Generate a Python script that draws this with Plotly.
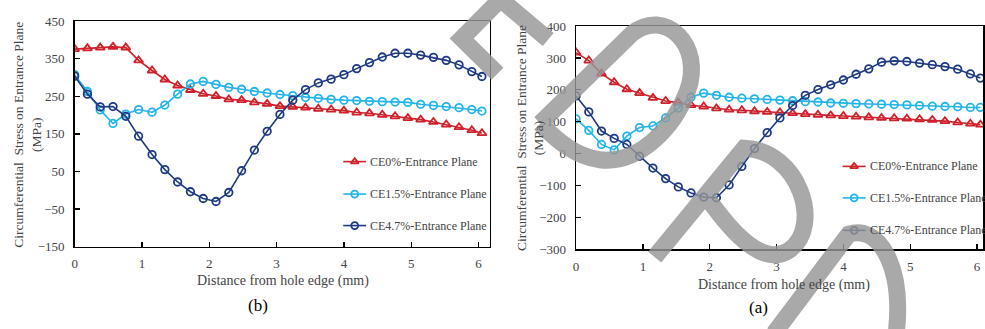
import plotly.graph_objects as go

# ---------------- data ----------------
x_mm = [0.00, 0.19, 0.38, 0.57, 0.76, 0.95, 1.15, 1.34, 1.53, 1.72, 1.91,
        2.10, 2.29, 2.48, 2.67, 2.86, 3.05, 3.24, 3.43, 3.62, 3.81, 4.00,
        4.19, 4.38, 4.57, 4.76, 4.95, 5.14, 5.33, 5.52, 5.71, 5.90, 6.05]

# panel (b) - left
b_ce0 = [376, 378, 380, 382, 380, 346, 319, 295, 279, 267, 257, 251, 242, 240,
         234, 230, 224, 222, 220, 217, 215, 212, 207, 205, 201, 197, 192, 188,
         182, 175, 168, 160, 152]
b_ce15 = [308, 263, 214, 178, 203, 215, 208, 227, 256, 283, 290, 282, 274, 269,
          263, 259, 255, 252, 247, 245, 242, 240, 239, 237, 236, 235, 234, 229,
          226, 223, 220, 215, 211]
b_ce47 = [304, 256, 222, 223, 197, 144, 95, 55, 22, -4, -22, -30, -6, 52, 107,
          157, 202, 240, 268, 286, 296, 308, 324, 340, 355, 365, 365, 360, 354,
          346, 334, 316, 303]

# panel (a) - right
a_ce0 = [317, 292, 251, 224, 202, 190, 175, 165, 160, 152, 148, 142, 138, 136,
         133, 131, 129, 127, 124, 122, 120, 118, 116, 114, 112, 111, 110, 108,
         106, 102, 98, 94, 91]
a_ce15 = [109, 73, 29, 12, 55, 82, 87, 112, 143, 177, 190, 183, 177, 174, 172,
          170, 168, 166, 163, 162, 159, 158, 157, 156, 155, 154, 153, 151, 149,
          148, 147, 145, 145]
a_ce47 = [181, 131, 71, 48, 29, -8, -45, -78, -104, -123, -136, -138, -98, -40,
          16, 66, 112, 151, 183, 201, 216, 231, 249, 266, 287, 291, 289, 284,
          279, 273, 265, 250, 237]

series_names = ["CE0%-Entrance Plane", "CE1.5%-Entrance Plane", "CE4.7%-Entrance Plane"]
y_ticks_b = [-150, -50, 50, 150, 250, 350, 450]
y_ticks_a = [-300, -200, -100, 0, 100, 200, 300, 400]
x_ticks = [0, 1, 2, 3, 4, 5, 6]
panel_labels = ["(b)", "(a)"]
y_title = "Circumferential  Stress on Entrance Plane<br>(MPa)"
x_title = "Distance from hole edge (mm)"

# ---------------- style ----------------
W, H = 985, 329
FONT = "Liberation Serif"
RED = "#d0202a"
LBLUE = "#22b4ea"
DBLUE = "#1f3a84"
GREY_TXT = "#444444"
styles = [
    dict(color=RED, symbol="triangle-up-open"),
    dict(color=LBLUE, symbol="circle-open"),
    dict(color=DBLUE, symbol="circle-open"),
]

def px_x(p):
    return p / W

def px_y(p):
    return 1 - p / H

fig = go.Figure()

panels = [
    dict(data=[b_ce0, b_ce15, b_ce47], xa="x", ya="y",
         xdom=[px_x(72), px_x(489)], ydom=[px_y(251), px_y(15)],
         xr=[0, 6.163], yr=[-150, 450], yt=y_ticks_b,
         legx=342, legy=[162, 196, 229]),
    dict(data=[a_ce0, a_ce15, a_ce47], xa="x2", ya="y2",
         xdom=[px_x(576), 1.0], ydom=[px_y(254), px_y(20)],
         xr=[0, 6.089], yr=[-300, 400], yt=y_ticks_a,
         legx=844, legy=[167, 200, 234]),
]

for p in panels:
    for s, (yv, st) in enumerate(zip(p["data"], styles)):
        fig.add_trace(go.Scatter(
            x=x_mm, y=yv, xaxis=p["xa"], yaxis=p["ya"], mode="lines+markers",
            line=dict(color=st["color"], width=1.6),
            marker=dict(symbol=st["symbol"], size=8 if s == 0 else 7.5,
                        color=st["color"], line=dict(width=1.8, color=st["color"])),
            showlegend=False, name=series_names[s]))

axis_common = dict(showline=True, linecolor="black", linewidth=1.5, mirror=True,
                   ticks="inside", ticklen=5, tickwidth=1.2, tickcolor="black",
                   showgrid=False, zeroline=False,
                   tickfont=dict(family=FONT, size=13, color=GREY_TXT))

fig.update_layout(
    xaxis=dict(domain=panels[0]["xdom"], range=panels[0]["xr"], anchor="y",
               tickvals=x_ticks, ticklabelstandoff=4, **axis_common),
    yaxis=dict(domain=panels[0]["ydom"], range=panels[0]["yr"], anchor="x",
               tickvals=y_ticks_b, ticklabelstandoff=6, **axis_common),
    xaxis2=dict(domain=panels[1]["xdom"], range=panels[1]["xr"], anchor="y2",
                tickvals=x_ticks, ticklabelstandoff=4, **axis_common),
    yaxis2=dict(domain=panels[1]["ydom"], range=panels[1]["yr"], anchor="x2",
                tickvals=y_ticks_a, ticklabelstandoff=6, **axis_common),
)

annotations = []
shapes = []
# y titles
for cx, cy in [(25, 134), (530, 137)]:
    annotations.append(dict(text=y_title, x=px_x(cx), y=px_y(cy), xref="paper", yref="paper",
                            showarrow=False, textangle=-90, xanchor="center", yanchor="middle",
                            font=dict(family=FONT, size=13.5, color=GREY_TXT)))
# x titles
for cx, cy in [(281, 287), (785, 291)]:
    annotations.append(dict(text=x_title, x=px_x(cx), y=px_y(cy), xref="paper", yref="paper",
                            showarrow=False, xanchor="center", yanchor="middle",
                            font=dict(family=FONT, size=14, color=GREY_TXT)))
# panel labels
for lab, cx, cy in [(panel_labels[0], 256, 313), (panel_labels[1], 759, 315)]:
    annotations.append(dict(text=lab, x=px_x(cx), y=px_y(cy), xref="paper", yref="paper",
                            showarrow=False, xanchor="center", yanchor="middle",
                            font=dict(family=FONT, size=17, color="black")))

# legends (drawn manually as line samples + markers + text)
for p in panels:
    for s, st in enumerate(styles):
        lx0, ly = p["legx"], p["legy"][s]
        shapes.append(dict(type="line", xref="paper", yref="paper",
                           x0=px_x(lx0), x1=px_x(lx0 + 23), y0=px_y(ly), y1=px_y(ly),
                           line=dict(color=st["color"], width=1.6)))
        fig.add_trace(go.Scatter(
            x=[px_x(lx0 + 11.5)], y=[px_y(ly)], xaxis="x3", yaxis="y3", mode="markers",
            marker=dict(symbol=st["symbol"], size=7, color=st["color"],
                        line=dict(width=1.8, color=st["color"])),
            showlegend=False, hoverinfo="skip"))
        annotations.append(dict(text=series_names[s], x=px_x(lx0 + 25), y=px_y(ly),
                                xref="paper", yref="paper", showarrow=False,
                                xanchor="left", yanchor="middle",
                                font=dict(family=FONT, size=12, color=GREY_TXT)))

# watermark strokes (grey, drawn over the charts), given in page pixels
watermark_px = [
    [("M", 548, 34), ("L", 500, -8), ("L", 461, 33), ("L", 497, 70)],
    [("M", 540, 122), ("L", 632, 28), ("C", 665, 0, 705, 40, 688, 88),
     ("C", 675, 125, 640, 165, 600, 160), ("C", 575, 157, 555, 138, 540, 122)],
    [("M", 655, 262), ("L", 745, 148), ("C", 800, 150, 825, 230, 790, 255),
     ("C", 765, 272, 735, 240, 708, 200)],
    [("M", 775, 342), ("L", 850, 238), ("C", 880, 228, 905, 270, 898, 340)],
]

def to_path(cmds):
    out = []
    for c in cmds:
        op, pts = c[0], c[1:]
        coords = []
        for i in range(0, len(pts), 2):
            coords.append(f"{px_x(pts[i]):.5f},{px_y(pts[i + 1]):.5f}")
        out.append(op + " " + " ".join(coords))
    return " ".join(out)

for cmds in watermark_px:
    shapes.append(dict(type="path", xref="paper", yref="paper", path=to_path(cmds),
                       line=dict(color="rgba(150,150,150,0.82)", width=17),
                       fillcolor="rgba(0,0,0,0)", layer="above"))

fig.update_layout(
    xaxis3=dict(domain=[0, 1], range=[0, 1], visible=False, anchor="y3"),
    yaxis3=dict(domain=[0, 1], range=[0, 1], visible=False, anchor="x3"),
)

fig.update_layout(width=W, height=H, margin=dict(l=0, r=0, t=0, b=0),
                  paper_bgcolor="white", plot_bgcolor="rgba(0,0,0,0)",
                  annotations=annotations, shapes=shapes, showlegend=False,
                  hovermode=False)

fig.write_html("out.html", config={"displayModeBar": False, "staticPlot": True},
               post_script="document.body.style.margin='0';document.body.style.overflow='hidden';")
